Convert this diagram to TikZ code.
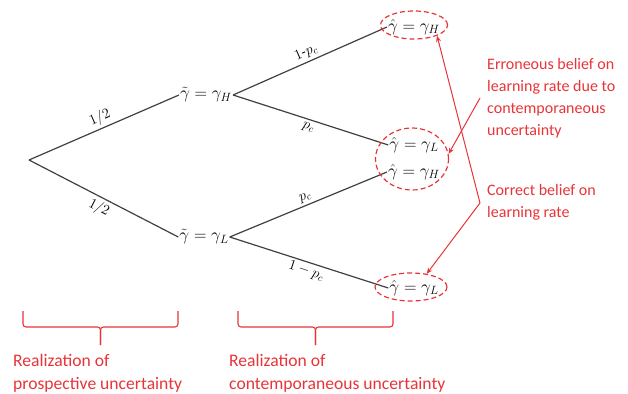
\documentclass[tikz,border=0pt]{standalone}
\usepackage{amsmath,amssymb}
\usepackage{fontspec}
\setmainfont{Carlito}
\usepackage{tikz}
\usetikzlibrary{arrows.meta,shapes.geometric,calc}
\definecolor{notered}{RGB}{232,52,56}
\definecolor{branch}{RGB}{64,64,64}

\begin{document}
\begin{tikzpicture}[x=1pt,y=-1pt,>={Stealth[length=6pt,width=5pt]},
  state/.style={inner sep=1pt,font=\fontsize{16.5}{18}\selectfont},
  prob/.style={sloped,inner sep=2.5pt,font=\fontsize{14}{16}\selectfont},
  limb/.style={draw=branch,line width=1.2pt},
  ring/.style={draw=notered,line width=1.2pt,dash pattern=on 5pt off 3pt,ellipse,inner sep=0pt},
  note/.style={text=notered,align=left,inner sep=0pt,font=\fontsize{16}{22}\selectfont},
  caption/.style={note,font=\fontsize{17.6}{23}\selectfont},
  pointer/.style={->,notered,line width=1pt},
  bracket/.style={draw=notered,line width=1.1pt,rounded corners=3pt}]
\useasboundingbox (0,0) rectangle (628,393);
% tree
\coordinate (root) at (29,160);
\node[state] (gH) at (206,95) {$\tilde{\gamma}=\gamma_H$};
\node[state] (gL) at (204,237) {$\tilde{\gamma}=\gamma_L$};
\node[state] (hH1) at (414,27) {$\hat{\gamma}=\gamma_H$};
\node[state] (hL1) at (414,145) {$\hat{\gamma}=\gamma_L$};
\node[state] (hH2) at (414,172) {$\hat{\gamma}=\gamma_H$};
\node[state] (hL2) at (414,288) {$\hat{\gamma}=\gamma_L$};
\draw[limb] (root) -- node[prob,above] {$1/2$} (gH.west);
\draw[limb] (root) -- node[prob,below] {$1/2$} (gL.west);
\draw[limb] (gH.east) -- node[prob,above] {$1\text{-}p_c$} (hH1.west);
\draw[limb] (gH.east) -- node[prob,below] {$p_c$} (hL1.west);
\draw[limb] (gL.east) -- node[prob,above] {$p_c$} (hH2.west);
\draw[limb] (gL.east) -- node[prob,below] {$1-p_c$} (hL2.west);
% dashed rings
\node[ring,minimum width=67,minimum height=28] (ringTop) at (414,25) {};
\node[ring,minimum width=73,minimum height=62] (ringMid) at (412,159) {};
\node[ring,minimum width=72,minimum height=28] (ringBot) at (411,287) {};
% notes
\node[note,anchor=north west] (wrong) at (487,58) {Erroneous belief on\\learning rate due to\\contemporaneous\\uncertainty};
\node[note,anchor=north west] (right) at (487,184) {Correct belief on\\learning rate};
\coordinate (wrongtail) at (480,98);
\coordinate (fork) at (480,203);
\draw[pointer] (wrongtail) -- (ringMid.8);
\draw[pointer] (fork) -- (ringTop.-25);
\draw[pointer] (fork) -- (ringBot.40);
% braces
\foreach \l/\r/\nm in {23/178/pros,238/393/cont}{
  \draw[bracket] (\l,311) |- ({(\l+\r)/2},327) -- ({(\l+\r)/2},345);
  \draw[bracket] (\r,311) |- ({(\l+\r)/2},327) -- ({(\l+\r)/2},345);
  \coordinate (\nm) at ({(\l+\r)/2},345);}
\node[caption,anchor=north west] (prosnote) at (13,354) {Realization of\\prospective uncertainty};
\node[caption,anchor=north west] (contnote) at (229,354) {Realization of\\contemporaneous uncertainty};
\end{tikzpicture}
\end{document}
